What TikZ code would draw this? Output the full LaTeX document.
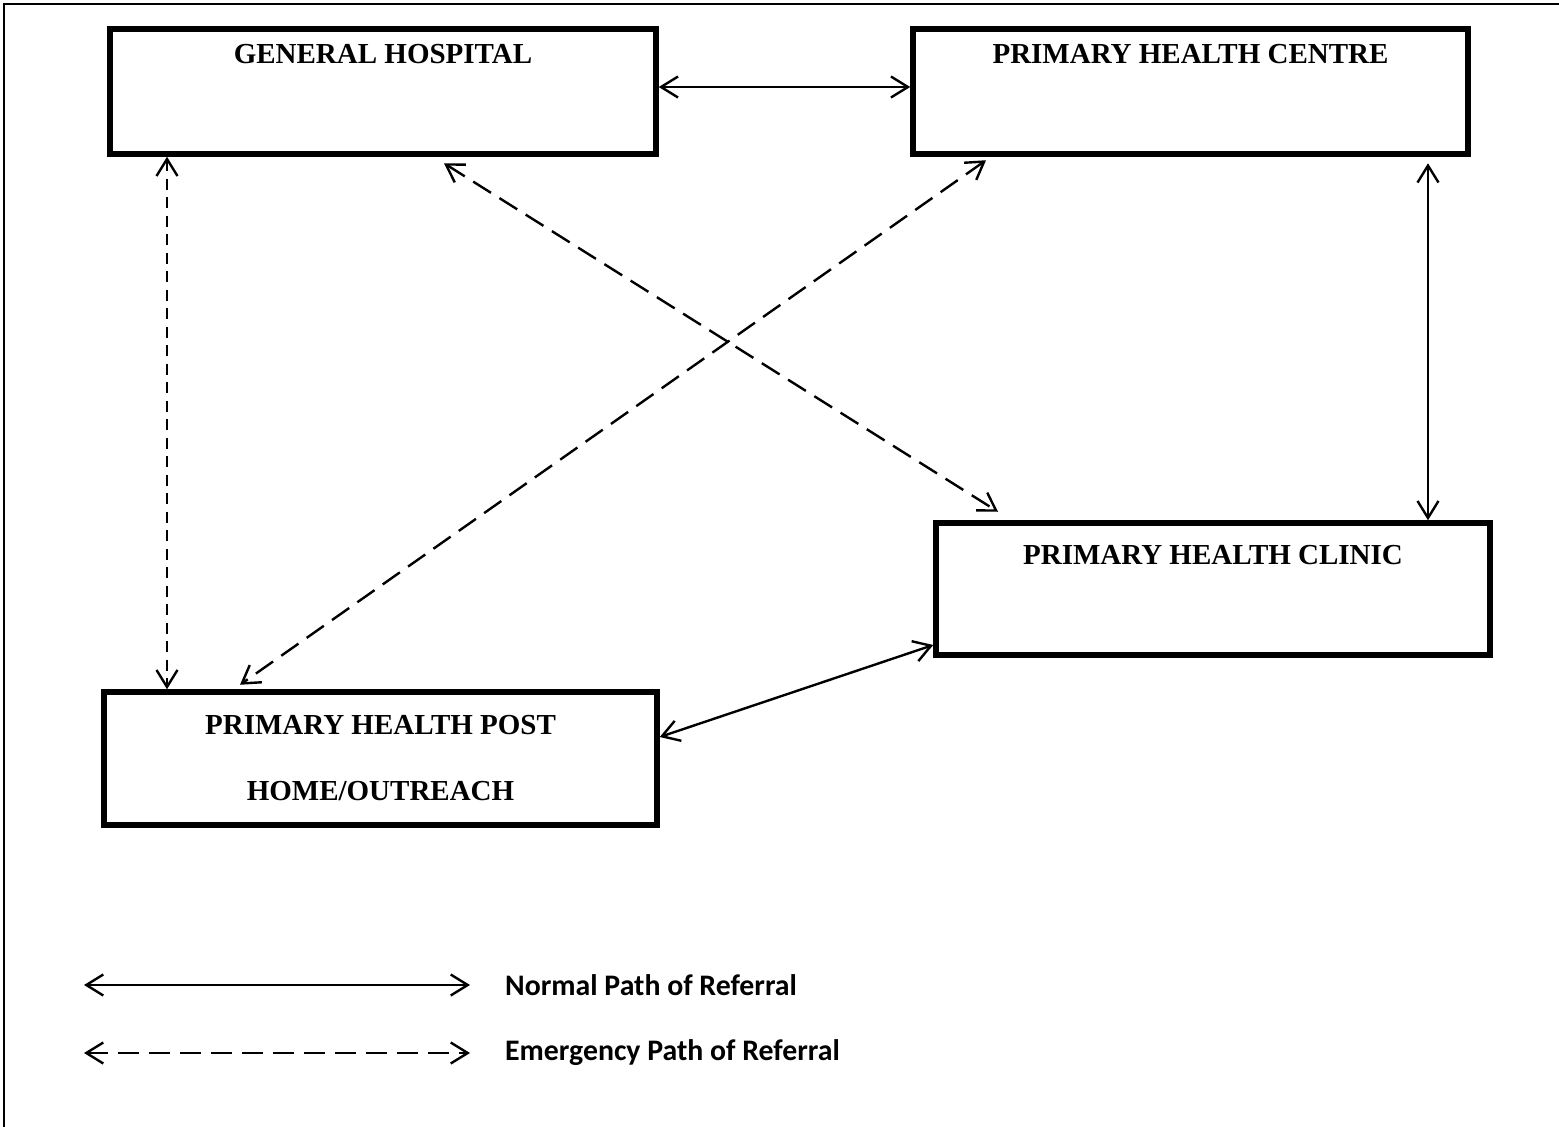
\documentclass[tikz,border=0pt]{standalone}
\usepackage{fontspec}
\setmainfont{Liberation Serif}
\newfontfamily\legendfont{Carlito}
\usetikzlibrary{arrows.meta}

\begin{document}
\begin{tikzpicture}[
        x=1pt, y=-1pt,
        every node/.style={align=center},
        facility/.style={draw, line width=5.5pt, inner sep=0pt,
                         font=\fontsize{29}{34}\selectfont\bfseries},
        boxlabel/.style={inner sep=0pt, anchor=base,
                         font=\fontsize{29}{34}\selectfont\bfseries},
        legendtext/.style={inner sep=0pt, anchor=west,
                           font=\legendfont\fontsize{29.8}{34}\selectfont\bfseries},
        referral/.style={line width=2.4pt,
                         {Straight Barb[length=17pt, width=21pt]}-{Straight Barb[length=17pt, width=21pt]}},
        emergency/.style={referral, dash pattern=on 21pt off 10pt},
        shortdash/.style={referral, dash pattern=on 11pt off 7.5pt},
    ]
    \useasboundingbox (0,0) rectangle (1559,1127);

    % --- Page frame (top and left edges only) ------------------------------
    \draw[line width=2pt] (1559,4) -- (4,4) -- (4,1127);

    % --- Four facilities ---------------------------------------------------
    \node[facility, minimum width=546pt, minimum height=125pt]
        (gh)     at (383,91.5) {};
    \node[facility, minimum width=555pt, minimum height=125pt]
        (phc)    at (1190.5,91.5) {};
    \node[facility, minimum width=554pt, minimum height=132pt]
        (clinic) at (1213,589) {};
    \node[facility, minimum width=553pt, minimum height=133pt]
        (post)   at (380.5,758.5)
        {PRIMARY HEALTH POST\\[32pt]HOME/OUTREACH};

    % Box titles sit near the top edge
    \node[boxlabel] at ([yshift=-37.5pt]gh.north)  {GENERAL HOSPITAL};
    \node[boxlabel] at ([yshift=-37.5pt]phc.north) {PRIMARY HEALTH CENTRE};
    \node[boxlabel] at ([yshift=-44pt]clinic.north) {PRIMARY HEALTH CLINIC};

    % --- Normal paths of referral ------------------------------------------
    \draw[referral] ([yshift=4.5pt]gh.east) -- ([yshift=4.5pt]phc.west);
    \draw[referral] ([xshift=237.5pt, yshift=-6.5pt]phc.south)
        -- ([xshift=215pt]clinic.north);
    \draw[referral] ([yshift=21.5pt]post.east)
        -- ([yshift=-56pt]clinic.west);

    % --- Emergency paths of referral ---------------------------------------
    \draw[shortdash] ([xshift=-216pt]gh.south)
        -- ([xshift=-213.5pt]post.north);
    \draw[emergency] ([xshift=61pt, yshift=-6.5pt]gh.south)
        -- ([xshift=-215pt, yshift=8.5pt]clinic.north);
    \draw[emergency] ([xshift=-204.5pt, yshift=-3.5pt]phc.south)
        -- ([xshift=-140.5pt, yshift=4.5pt]post.north);

    % --- Legend --------------------------------------------------------------
    \coordinate (nstart) at (84,985);
    \coordinate (nend)   at (470,985);
    \coordinate (estart) at (84,1053);
    \coordinate (eend)   at (470,1053);
    \draw[referral]  (nstart) -- (nend);
    \draw[emergency] (estart) -- (eend);
    \node[legendtext] (normal) at ([xshift=35pt]nend)
        {Normal Path of Referral};
    \node[legendtext] (emerg)  at ([xshift=35pt]eend)
        {Emergency Path of Referral};

\end{tikzpicture}
\end{document}
